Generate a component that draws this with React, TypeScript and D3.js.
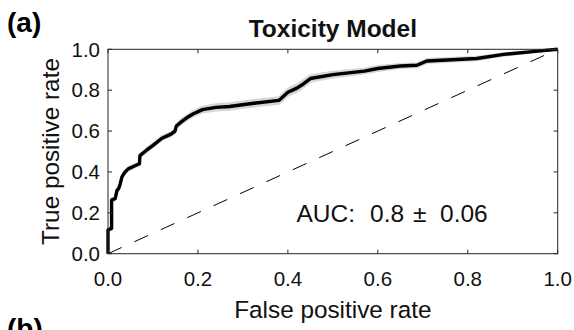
import React from "react";
import * as d3 from "d3";

const fpr = [0, 0, 0.008, 0.008, 0.016, 0.02, 0.024, 0.027, 0.031, 0.038, 0.045, 0.06, 0.07, 0.071, 0.085, 0.1, 0.12, 0.14, 0.149, 0.152, 0.163, 0.175, 0.19, 0.21, 0.24, 0.27, 0.32, 0.38, 0.4, 0.42, 0.43, 0.45, 0.5, 0.57, 0.6, 0.65, 0.687, 0.709, 0.82, 0.88, 0.95, 1.0];
const tpr = [0, 0.116, 0.124, 0.262, 0.27, 0.31, 0.32, 0.34, 0.376, 0.4, 0.415, 0.43, 0.44, 0.48, 0.505, 0.53, 0.565, 0.585, 0.6, 0.625, 0.645, 0.665, 0.685, 0.705, 0.716, 0.72, 0.735, 0.75, 0.79, 0.81, 0.824, 0.857, 0.876, 0.893, 0.906, 0.918, 0.922, 0.943, 0.955, 0.975, 0.99, 1.0];
const bandHalfWidth = [0, 0.005, 0.006, 0.008, 0.008, 0.008, 0.008, 0.008, 0.008, 0.008, 0.008, 0.008, 0.008, 0.008, 0.01, 0.01, 0.01, 0.01, 0.01, 0.01, 0.012, 0.012, 0.012, 0.014, 0.015, 0.016, 0.016, 0.016, 0.018, 0.018, 0.018, 0.016, 0.014, 0.012, 0.012, 0.01, 0.01, 0.01, 0.008, 0.006, 0.004, 0];
const xTicks = [0, 0.2, 0.4, 0.6, 0.8, 1.0];
const yTicks = [0, 0.2, 0.4, 0.6, 0.8, 1.0];
const chanceLine = [0, 1];
const title = "Toxicity Model";
const xLabel = "False positive rate";
const yLabel = "True positive rate";
const aucParts = ["AUC:", "0.8", "\u00B1", "0.06"];

const W = 574;
const H = 330;
const L = 108, R = 557.7, T = 49.3, B = 253.7;
const FONT = "'Liberation Sans', Arial, Helvetica, sans-serif";
const aucX = [296.5, 370, 413, 440];

export default function App() {
  const x = d3.scaleLinear().domain([0, 1]).range([L, R]);
  const y = d3.scaleLinear().domain([0, 1]).range([B, T]);
  const pts = fpr.map((f, i) => ({ f, t: tpr[i], h: bandHalfWidth[i] }));
  const line = d3.line<any>().x((d) => x(d.f)).y((d) => y(d.t));
  const area = d3
    .area<any>()
    .x((d) => x(d.f))
    .y0((d) => y(Math.max(0, d.t - d.h)))
    .y1((d) => y(Math.min(1, d.t + d.h)));
  const tickLen = 4;
  const fmt = d3.format(".1f");
  return (
    <svg width={W} height={H} style={{ position: "absolute", left: 0, top: 0, background: "#fff" }} fontFamily={FONT}>
      <rect x={0} y={0} width={W} height={H} fill="#fff" />
      <path d={area(pts) || ""} fill="#cfcfcf" stroke="#d6d6d6" strokeWidth={2} />
      <path
        d={line(chanceLine.map((v) => ({ f: v, t: v }))) || ""}
        fill="none"
        stroke="#000"
        strokeWidth={1}
        strokeDasharray="15,14"
      />
      <path d={line(pts) || ""} fill="none" stroke="#000" strokeWidth={3.4} strokeLinejoin="round" />
      <rect x={L} y={T} width={R - L} height={B - T} fill="none" stroke="#262626" strokeWidth={1} />
      {xTicks.map((v) => (
        <g key={"x" + v}>
          <line x1={x(v)} x2={x(v)} y1={B} y2={B - tickLen} stroke="#262626" />
          <line x1={x(v)} x2={x(v)} y1={T} y2={T + tickLen} stroke="#262626" />
          <text x={x(v)} y={286} textAnchor="middle" fontSize={20.5} fill="#111">
            {fmt(v)}
          </text>
        </g>
      ))}
      {yTicks.map((v) => (
        <g key={"y" + v}>
          <line x1={L} x2={L + tickLen} y1={y(v)} y2={y(v)} stroke="#262626" />
          <line x1={R} x2={R - tickLen} y1={y(v)} y2={y(v)} stroke="#262626" />
          <text x={100} y={y(v) + 7.3} textAnchor="end" fontSize={20.5} fill="#111">
            {fmt(v)}
          </text>
        </g>
      ))}
      <text x={(L + R) / 2} y={37} textAnchor="middle" fontSize={24.5} fontWeight="bold" fill="#111">
        {title}
      </text>
      <text x={(L + R) / 2} y={318} textAnchor="middle" fontSize={24.3} fill="#111">
        {xLabel}
      </text>
      <text transform={`translate(59,${(T + B) / 2}) rotate(-90)`} textAnchor="middle" fontSize={24.3} fill="#111">
        {yLabel}
      </text>
      <text y={221.7} fontSize={24.5} fill="#111">
        {aucParts.map((p, i) => (
          <tspan key={i} x={aucX[i]}>
            {p}
          </tspan>
        ))}
      </text>
      <text x={7} y={32} fontSize={28} fontWeight="bold" fill="#000">
        (a)
      </text>
      <text x={7} y={338} fontSize={28} fontWeight="bold" fill="#000">
        (b)
      </text>
    </svg>
  );
}
